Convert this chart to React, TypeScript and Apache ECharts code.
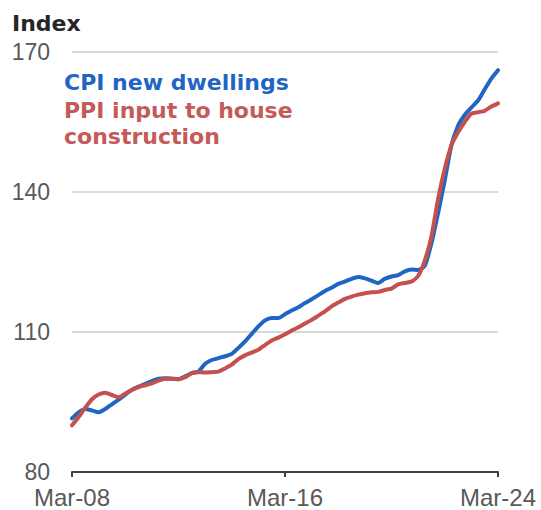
import React, { useEffect, useRef } from "react";
import * as echarts from "echarts";

// Quarterly index values, Mar-08 through Mar-24
const cpiNewDwellings = [
  91.5, 92.8, 93.5, 93.2, 92.8, 93.5, 94.5, 95.5, 96.6, 97.6,
  98.3, 98.9, 99.5, 100.0, 100.1, 100.0, 99.9, 100.5, 101.2, 101.5,
  103.2, 104.0, 104.4, 104.8, 105.3, 106.6, 108.0, 109.6, 111.2, 112.5,
  113.0, 113.0, 113.8, 114.6, 115.3, 116.2, 117.0, 117.9, 118.8, 119.5,
  120.3, 120.8, 121.4, 121.8, 121.5, 121.0, 120.5, 121.4, 121.9, 122.2,
  123.0, 123.4, 123.3, 124.2, 129.0, 135.5, 142.5, 150.0, 154.2, 156.5,
  158.1, 159.6, 162.0, 164.3, 166.1,
];

const ppiHouseConstruction = [
  90.0, 91.8, 93.8, 95.6, 96.6, 97.0, 96.5, 96.0, 96.8, 97.6,
  98.2, 98.6, 99.0, 99.6, 100.0, 100.0, 99.9, 100.3, 101.2, 101.4,
  101.3, 101.4, 101.5, 102.2, 103.0, 104.2, 105.0, 105.6, 106.2, 107.2,
  108.2, 108.8, 109.5, 110.3, 111.0, 111.8, 112.6, 113.5, 114.4, 115.5,
  116.3, 117.1, 117.6, 118.0, 118.3, 118.5, 118.6, 119.0, 119.3, 120.2,
  120.5, 120.8, 122.0, 125.3, 130.5, 138.5, 145.0, 150.0, 152.8, 155.0,
  156.8, 157.1, 157.4, 158.3, 159.0,
];

const quarterMonths = ["Mar", "Jun", "Sep", "Dec"];
const firstYear = 2008;
const quarterLabels = cpiNewDwellings.map((_, i) => {
  const year = firstYear + Math.floor(i / 4);
  return `${quarterMonths[i % 4]}-${String(year % 100).padStart(2, "0")}`;
});

const yMin = 80;
const yMax = 170;
const yStep = 30;

const seriesNames = ["CPI new dwellings", "PPI input to house\nconstruction"];
const blue = "#1f66c4";
const red = "#c4514e";

export default function App() {
  const ref = useRef<HTMLDivElement>(null);

  useEffect(() => {
    if (!ref.current) return;
    const chart = echarts.init(ref.current, null, { renderer: "svg" });
    chart.setOption({
      animation: false,
      backgroundColor: "#ffffff",
      grid: { left: 72, right: 43, top: 52, bottom: 38, containLabel: false },
      xAxis: {
        type: "category",
        data: quarterLabels,
        boundaryGap: false,
        axisLine: { lineStyle: { color: "#404040", width: 2 } },
        axisTick: {
          show: true,
          interval: 31,
          inside: false,
          length: 5,
          lineStyle: { color: "#404040", width: 2 },
        },
        axisLabel: {
          interval: 31,
          margin: 13,
          color: "#595959",
          fontSize: 24,
          fontFamily: "'Liberation Sans', Arial, sans-serif",
          showMinLabel: true,
          showMaxLabel: true,
        },
        splitLine: { show: false },
      },
      yAxis: {
        type: "value",
        min: yMin,
        max: yMax,
        interval: yStep,
        axisLine: { show: false },
        axisTick: { show: false },
        axisLabel: {
          margin: 22,
          color: "#595959",
          fontSize: 23,
          fontFamily: "'Liberation Sans', Arial, sans-serif",
        },
        splitLine: { lineStyle: { color: "#d9d9d9", width: 2 } },
      },
      series: [
        {
          name: seriesNames[0],
          type: "line",
          data: cpiNewDwellings,
          showSymbol: false,
          smooth: 0.2,
          lineStyle: { color: blue, width: 4, cap: "round", join: "round" },
          z: 2,
        },
        {
          name: seriesNames[1],
          type: "line",
          data: ppiHouseConstruction,
          showSymbol: false,
          smooth: 0.2,
          lineStyle: { color: red, width: 4, cap: "round", join: "round" },
          z: 3,
        },
      ],
      graphic: [
        {
          type: "text",
          left: 12,
          top: 12,
          style: {
            text: "Index",
            fill: "#262626",
            font: "bold 22px 'DejaVu Sans', sans-serif",
          },
        },
        {
          type: "text",
          left: 64,
          top: 71,
          style: {
            text: seriesNames[0],
            fill: blue,
            font: "bold 22px 'DejaVu Sans', sans-serif",
          },
        },
        {
          type: "text",
          left: 64,
          top: 97,
          style: {
            text: seriesNames[1],
            fill: "#c55a5a",
            font: "bold 22px 'DejaVu Sans', sans-serif",
            lineHeight: 26,
          },
        },
      ],
    });
    return () => chart.dispose();
  }, []);

  return (
    <div
      ref={ref}
      style={{ position: "absolute", left: 0, top: 0, width: 541, height: 510 }}
    />
  );
}
